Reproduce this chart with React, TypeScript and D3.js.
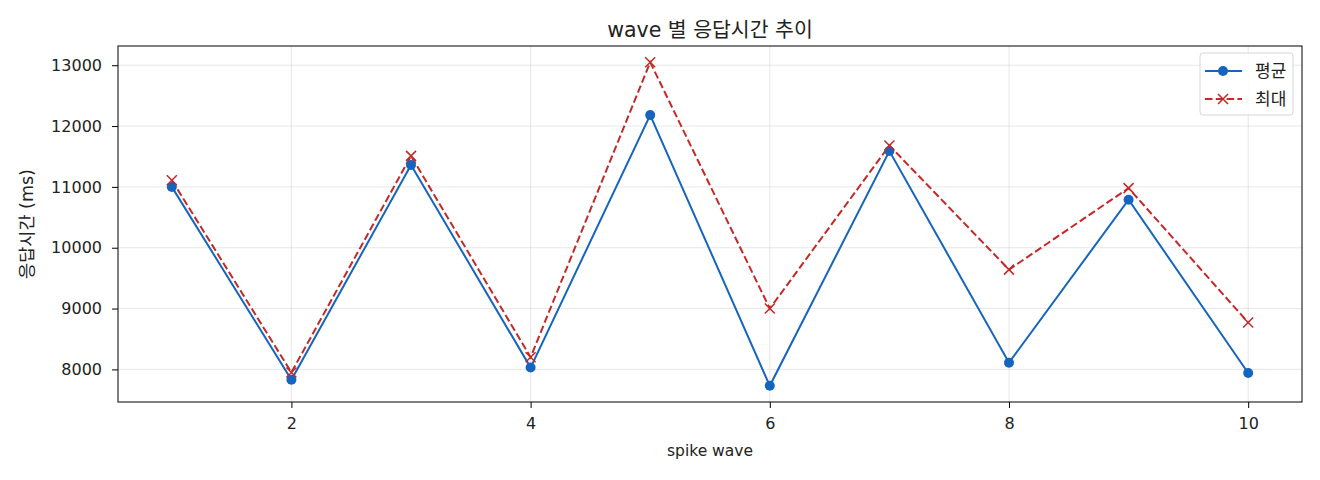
import React, { useEffect, useRef } from "react";
import * as d3 from "d3";

const waves = [1, 2, 3, 4, 5, 6, 7, 8, 9, 10];
const avgMs = [11000, 7830, 11360, 8030, 12180, 7730, 11590, 8110, 10790, 7940];
const maxMs = [11110, 7950, 11510, 8200, 13050, 9000, 11680, 9640, 10980, 8770];
const xTicks = [2, 4, 6, 8, 10];
const yTicks = [8000, 9000, 10000, 11000, 12000, 13000];

const BLUE = "#1565c0";
const RED = "#c62828";
const FONT = "'DejaVu Sans', 'Noto Sans CJK KR', sans-serif";

const App: React.FC = () => {
  const svgRef = useRef<SVGSVGElement>(null);

  useEffect(() => {
    if (!svgRef.current) return;
    const width = 1320;
    const height = 480;
    const margin = { top: 46, right: 18, bottom: 78, left: 118 };
    const innerW = width - margin.left - margin.right;
    const innerH = height - margin.top - margin.bottom;

    const svg = d3.select(svgRef.current);
    svg.selectAll("*").remove();
    svg.attr("width", width).attr("height", height);

    svg.append("rect").attr("width", width).attr("height", height).attr("fill", "#fff");

    const g = svg.append("g").attr("transform", `translate(${margin.left},${margin.top})`);

    // matplotlib-like 5% margins
    const x = d3.scaleLinear().domain([0.55, 10.45]).range([0, innerW]);
    const allVals = avgMs.concat(maxMs);
    const lo = d3.min(allVals)!;
    const hi = d3.max(allVals)!;
    const pad = (hi - lo) * 0.05;
    const y = d3.scaleLinear().domain([lo - pad, hi + pad]).range([innerH, 0]);

    // grid
    g.append("g")
      .selectAll("line")
      .data(xTicks)
      .enter()
      .append("line")
      .attr("x1", d => x(d))
      .attr("x2", d => x(d))
      .attr("y1", 0)
      .attr("y2", innerH)
      .attr("stroke", "#b0b0b0")
      .attr("stroke-opacity", 0.3)
      .attr("stroke-width", 1);
    g.append("g")
      .selectAll("line")
      .data(yTicks)
      .enter()
      .append("line")
      .attr("x1", 0)
      .attr("x2", innerW)
      .attr("y1", d => y(d))
      .attr("y2", d => y(d))
      .attr("stroke", "#b0b0b0")
      .attr("stroke-opacity", 0.3)
      .attr("stroke-width", 1);

    // axes
    const xAxis = g
      .append("g")
      .attr("transform", `translate(0,${innerH})`)
      .call(d3.axisBottom(x).tickValues(xTicks).tickSize(6).tickPadding(10).tickFormat(d3.format("d")));
    const yAxis = g
      .append("g")
      .call(d3.axisLeft(y).tickValues(yTicks).tickSize(6).tickPadding(10).tickFormat(d3.format("d")));
    [xAxis, yAxis].forEach(a => {
      a.select(".domain").remove();
      a.selectAll("line").attr("stroke", "#000").attr("stroke-width", 1);
      a.selectAll("text")
        .attr("fill", "#222")
        .style("font-family", FONT)
        .style("font-size", "16px");
    });

    // lines
    const line = d3
      .line<number>()
      .x((_, i) => x(waves[i]))
      .y(d => y(d));

    g.append("path")
      .datum(maxMs)
      .attr("fill", "none")
      .attr("stroke", RED)
      .attr("stroke-width", 2)
      .attr("stroke-dasharray", "7.5,3.3")
      .attr("d", line);

    g.append("path")
      .datum(avgMs)
      .attr("fill", "none")
      .attr("stroke", BLUE)
      .attr("stroke-width", 2)
      .attr("d", line);

    g.selectAll("circle.avg")
      .data(avgMs)
      .enter()
      .append("circle")
      .attr("class", "avg")
      .attr("cx", (_, i) => x(waves[i]))
      .attr("cy", d => y(d))
      .attr("r", 5)
      .attr("fill", BLUE);

    const xMark = (cx: number, cy: number, s: number) =>
      `M${cx - s},${cy - s}L${cx + s},${cy + s}M${cx - s},${cy + s}L${cx + s},${cy - s}`;

    g.selectAll("path.mx")
      .data(maxMs)
      .enter()
      .append("path")
      .attr("class", "mx")
      .attr("d", (d, i) => xMark(x(waves[i]), y(d), 5))
      .attr("stroke", RED)
      .attr("stroke-width", 1.5)
      .attr("fill", "none");

    // frame
    g.append("rect")
      .attr("width", innerW)
      .attr("height", innerH)
      .attr("fill", "none")
      .attr("stroke", "#000")
      .attr("stroke-width", 1);

    // legend
    const leg = g.append("g").attr("transform", `translate(${innerW - 102},7)`);
    leg.append("rect")
      .attr("width", 93)
      .attr("height", 62)
      .attr("rx", 3)
      .attr("fill", "#fff")
      .attr("fill-opacity", 0.8)
      .attr("stroke", "#d6d6d6");
    const items = [
      { label: "평균", color: BLUE, dash: null as string | null, marker: "o" },
      { label: "최대", color: RED, dash: "7.5,3.3", marker: "x" }
    ];
    items.forEach((it, i) => {
      const cy = 18 + i * 28;
      leg.append("line")
        .attr("x1", 5)
        .attr("x2", 42)
        .attr("y1", cy)
        .attr("y2", cy)
        .attr("stroke", it.color)
        .attr("stroke-width", 2)
        .attr("stroke-dasharray", it.dash);
      if (it.marker === "o") {
        leg.append("circle").attr("cx", 23).attr("cy", cy).attr("r", 5).attr("fill", it.color);
      } else {
        leg.append("path")
          .attr("d", xMark(23, cy, 5))
          .attr("stroke", it.color)
          .attr("stroke-width", 1.5);
      }
      leg.append("text")
        .attr("x", 55)
        .attr("y", cy)
        .attr("dy", "0.35em")
        .attr("fill", "#222")
        .style("font-family", FONT)
        .style("font-size", "17px")
        .text(it.label);
    });

    // title and labels
    svg.append("text")
      .attr("x", margin.left + innerW / 2)
      .attr("y", 37)
      .attr("text-anchor", "middle")
      .attr("fill", "#222")
      .style("font-family", FONT)
      .style("font-size", "20.5px")
      .text("wave 별 응답시간 추이");

    svg.append("text")
      .attr("x", margin.left + innerW / 2)
      .attr("y", 456)
      .attr("text-anchor", "middle")
      .attr("fill", "#222")
      .style("font-family", FONT)
      .style("font-size", "15.5px")
      .text("spike wave");

    svg.append("text")
      .attr("transform", `translate(33,224) rotate(-90)`)
      .attr("text-anchor", "middle")
      .attr("fill", "#222")
      .style("font-family", FONT)
      .style("font-size", "17.5px")
      .text("응답시간 (ms)");
  }, []);

  return <svg ref={svgRef} style={{ position: "absolute", left: 0, top: 0 }}></svg>;
};

export default App;
